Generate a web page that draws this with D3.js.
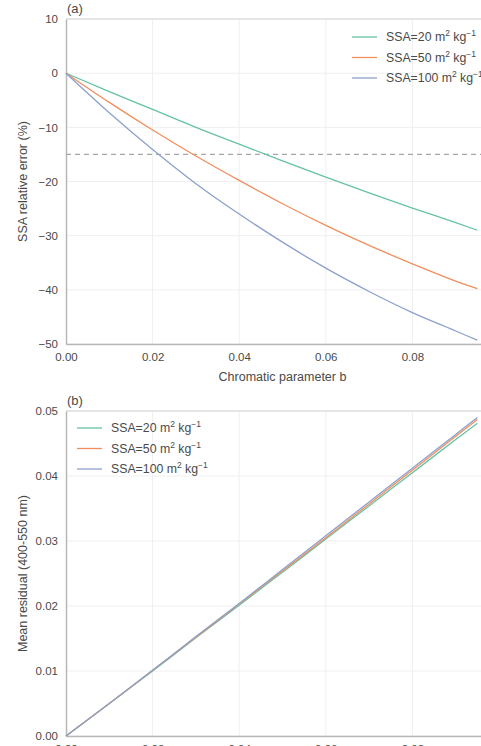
<!DOCTYPE html>
<html>
<head>
<meta charset="utf-8">
<script src="https://cdn.jsdelivr.net/npm/d3@7"></script>
<style>
  body { margin: 0; background: #fff; overflow: hidden; }
  text { font-family: "Liberation Sans", Arial, sans-serif; fill: #4a4a4a; }
</style>
</head>
<body>
<div id="chart"></div>
<script>
// chromatic parameter b
const bValues = [0, 0.01, 0.02, 0.03, 0.04, 0.05, 0.06, 0.07, 0.08, 0.09, 0.095];

// (a) SSA relative error (%)
const err20 = [0, -3.4, -6.7, -10.0, -13.1, -16.2, -19.2, -22.1, -24.9, -27.6, -29.0];
const err50 = [0, -5.4, -10.5, -15.3, -19.8, -24.1, -28.1, -31.8, -35.2, -38.4, -39.8];
const err100 = [0, -7.3, -14.1, -20.4, -26.0, -31.2, -36.0, -40.3, -44.2, -47.6, -49.3];

// (b) mean residual (400-550 nm)
const res20 = [0, 0.0050, 0.0100, 0.0151, 0.0201, 0.0252, 0.0303, 0.0354, 0.0405, 0.0456, 0.0481];
const res50 = [0, 0.0050, 0.0101, 0.0152, 0.0203, 0.0254, 0.0305, 0.0357, 0.0409, 0.0461, 0.0487];
const res100 = [0, 0.0050, 0.0101, 0.0153, 0.0204, 0.0256, 0.0308, 0.0360, 0.0412, 0.0464, 0.0490];

const ssaLabels = ["20", "50", "100"];
const colors = ["#66c2a5", "#f28e5e", "#8da0cb"];

const xTicks = [0, 0.02, 0.04, 0.06, 0.08];
const yTicksA = [10, 0, -10, -20, -30, -40, -50];
const yTicksB = [0, 0.01, 0.02, 0.03, 0.04, 0.05];
const threshold = -15;

const width = 481, height = 746;
const svg = d3.select("#chart").append("svg")
    .attr("width", width)
    .attr("height", height);

const left = 66, right = 499;

const x = d3.scaleLinear().domain([0, 0.1]).range([left, right]);

function drawPanel(opts) {
    const y = d3.scaleLinear().domain(opts.yDomain).range([opts.bottom, opts.top]);
    const g = svg.append("g");

    // grid
    g.selectAll(".vgrid").data(xTicks.slice(1))
        .enter().append("line")
        .attr("x1", d => x(d)).attr("x2", d => x(d))
        .attr("y1", opts.top).attr("y2", opts.bottom)
        .attr("stroke", "#efefef").attr("stroke-width", 1);
    g.selectAll(".hgrid").data(opts.yTicks)
        .enter().append("line")
        .attr("x1", left).attr("x2", right)
        .attr("y1", d => y(d)).attr("y2", d => y(d))
        .attr("stroke", "#efefef").attr("stroke-width", 1);

    // frame top
    g.append("line").attr("x1", left).attr("x2", right)
        .attr("y1", opts.top).attr("y2", opts.top)
        .attr("stroke", "#d4d4d4").attr("stroke-width", 1.2);

    // x axis
    const xAxis = g.append("g")
        .attr("transform", `translate(0,${opts.bottom})`)
        .call(d3.axisBottom(x).tickValues(xTicks).tickSize(0).tickPadding(9)
            .tickFormat(d3.format(".2f")));
    xAxis.select(".domain").attr("stroke", "#b8b8b8").attr("stroke-width", 1.5);
    xAxis.selectAll("text").style("font-size", "11.5px").attr("fill", "#4a4a4a")
        .attr("font-family", "Liberation Sans, Arial, sans-serif");

    // y axis
    const yAxis = g.append("g")
        .attr("transform", `translate(${left},0)`)
        .call(d3.axisLeft(y).tickValues(opts.yTicks).tickSize(0).tickPadding(8)
            .tickFormat(opts.yFormat));
    yAxis.select(".domain").attr("stroke", "#b8b8b8").attr("stroke-width", 1.5);
    yAxis.selectAll("text").style("font-size", "11.5px").attr("fill", "#4a4a4a")
        .attr("font-family", "Liberation Sans, Arial, sans-serif");

    // y label
    g.append("text")
        .attr("transform", `translate(27,${(opts.top + opts.bottom) / 2}) rotate(-90)`)
        .attr("text-anchor", "middle")
        .style("font-size", "12.5px")
        .text(opts.yLabel);

    // panel letter
    g.append("text")
        .attr("x", left + 1)
        .attr("y", opts.top - 6)
        .style("font-size", "13px")
        .text(opts.letter);

    if (opts.extra) opts.extra(g, y);

    const line = d3.line()
        .x((d, i) => x(bValues[i]))
        .y(d => y(d))
        .curve(d3.curveMonotoneX);

    opts.series.forEach((s, i) => {
        g.append("path")
            .datum(s)
            .attr("d", line)
            .attr("fill", "none")
            .attr("stroke", colors[i])
            .attr("stroke-width", 1.3);
    });

    // legend
    const legend = g.append("g")
        .attr("transform", `translate(${opts.legendX},${opts.legendY})`);
    ssaLabels.forEach((lab, i) => {
        const row = legend.append("g").attr("transform", `translate(0,${i * 20.5})`);
        row.append("line")
            .attr("x1", 0).attr("x2", 25)
            .attr("y1", 0).attr("y2", 0)
            .attr("stroke", colors[i]).attr("stroke-width", 1.3);
        const t = row.append("text")
            .attr("x", 34).attr("y", 4)
            .style("font-size", "12.3px");
        t.append("tspan").text(`SSA=${lab} m`);
        t.append("tspan").attr("dy", -5).style("font-size", "8.5px").text("2");
        t.append("tspan").attr("dy", 5).text(" kg");
        t.append("tspan").attr("dy", -5).style("font-size", "8.5px").text("\u22121");
    });
}

drawPanel({
    top: 19, bottom: 344,
    yDomain: [-50, 10],
    yTicks: yTicksA,
    yFormat: d => d < 0 ? "\u2212" + Math.abs(d) : d,
    yLabel: "SSA relative error (%)",
    letter: "(a)",
    series: [err20, err50, err100],
    legendX: 352, legendY: 37,
    extra: (g, y) => {
        g.append("line")
            .attr("x1", left).attr("x2", right)
            .attr("y1", y(threshold)).attr("y2", y(threshold))
            .attr("stroke", "#a8a8a8")
            .attr("stroke-width", 1.3)
            .attr("stroke-dasharray", "5,4");
    }
});

svg.append("text")
    .attr("x", (left + right) / 2)
    .attr("y", 381)
    .attr("text-anchor", "middle")
    .style("font-size", "12.5px")
    .text("Chromatic parameter b");

drawPanel({
    top: 411, bottom: 736,
    yDomain: [0, 0.05],
    yTicks: yTicksB,
    yFormat: d3.format(".2f"),
    yLabel: "Mean residual (400-550 nm)",
    letter: "(b)",
    series: [res20, res50, res100],
    legendX: 77, legendY: 428
});
</script>
</body>
</html>
